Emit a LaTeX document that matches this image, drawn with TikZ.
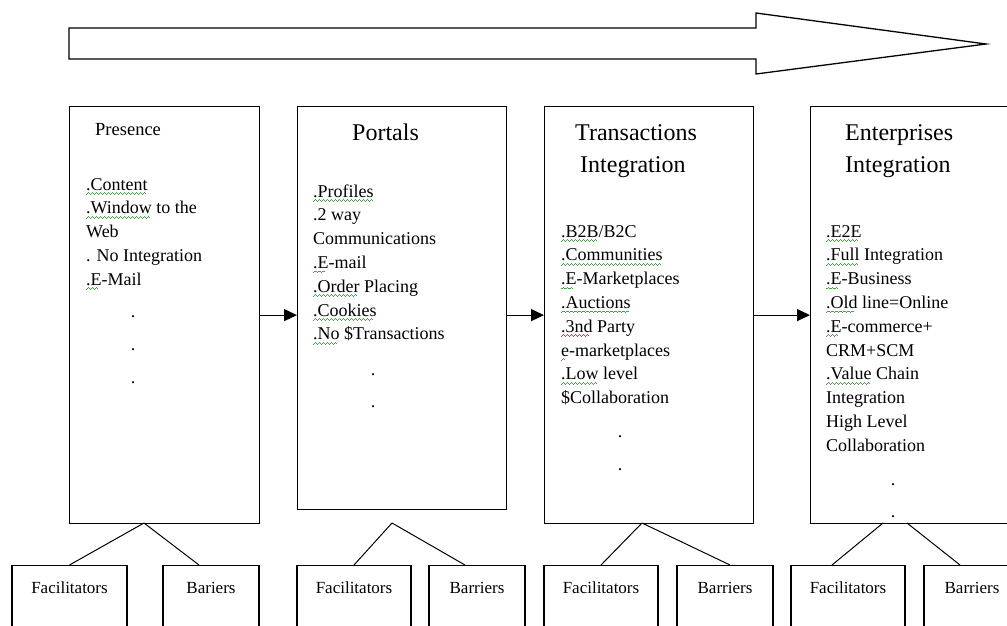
\documentclass[tikz,border=0pt]{standalone}
\usepackage{fontspec}
\setmainfont{Liberation Serif}
\usetikzlibrary{arrows.meta}
\definecolor{sqgreen}{RGB}{60,170,60}
\definecolor{sqred}{RGB}{220,50,50}
\newcommand\waveunit{\hbox{\rule{1pt}{0.8pt}\rule[0.8pt]{1pt}{0.8pt}\rule[1.6pt]{1pt}{0.8pt}\rule[0.8pt]{1pt}{0.8pt}}}
\newcommand\sqline[2]{\setbox0\hbox{#2}\rlap{\lower4.5pt\hbox to\wd0{\color{#1}\leaders\waveunit\hfill}}\box0\relax}
\newcommand\gw[1]{\sqline{sqgreen}{#1}}
\newcommand\rw[1]{\sqline{sqred}{#1}}
\tikzset{
 mainbox/.style={draw, line width=1.2pt, anchor=north west, inner sep=0pt},
 botbox/.style={draw, line width=1.1pt, anchor=north, inner xsep=0pt, inner ysep=16pt, text height=12pt, text depth=50pt, font=\fontsize{17}{20}\selectfont},
 title/.style={anchor=base west, inner sep=0pt, font=\fontsize{24}{30}\selectfont},
 smalltitle/.style={anchor=base west, inner sep=0pt, font=\fontsize{18.5}{22}\selectfont},
 body/.style={anchor=base west, inner sep=0pt, font=\fontsize{18}{23.8}\selectfont},
 dotmark/.style={anchor=base, inner sep=0pt, font=\fontsize{18}{20}\selectfont},
 conn/.style={line width=1.2pt, -{Triangle[length=13pt,width=12pt]}},
 link/.style={line width=1pt},
 bigarrow/.style={draw, line width=1.3pt, fill=white, line join=miter}
}
\begin{document}
\begin{tikzpicture}[x=1pt,y=-1pt]
\useasboundingbox (0,0) rectangle (1007,625);
\clip (0,0) rectangle (1007,625);
\fill[white] (0,0) rectangle (1007,625);

% big arrow
\draw[bigarrow] (69,28) -- (756,28) -- (756,13) -- (986,44) -- (756,74) -- (756,59) -- (69,59) -- cycle;

% main boxes
\node[mainbox, minimum width=190pt, minimum height=417pt] (presence) at (69,106) {};
\node[mainbox, minimum width=209pt, minimum height=403pt] (portals) at (297,106) {};
\node[mainbox, minimum width=209pt, minimum height=417pt] (trans) at (544,106) {};
\node[mainbox, minimum width=230pt, minimum height=417pt] (ent) at (810,106) {};

% titles
\node[smalltitle] (t-pres) at (95,135) {Presence};
\node[title] (t-port) at (352,140) {Portals};
\node[title] (t-trans1) at (575,140) {Transactions};
\node[title] (t-trans2) at (580,172) {Integration};
\node[title] (t-ent1) at (845,140) {Enterprises};
\node[title] (t-ent2) at (845,172) {Integration};

% lists
\node[body] (l-pres) at (86,190) {\begin{tabular}[t]{@{}l@{}}
\gw{.Content}\\
\gw{.Window} to the\\
Web\\
. No Integration\\
\gw{.E}-Mail
\end{tabular}};
\node[body] (l-port) at (313,197) {\begin{tabular}[t]{@{}l@{}}
\gw{.Profiles}\\
.2 way\\
Communications\\
\gw{.E}-mail\\
\gw{.Order} Placing\\
\gw{.Cookies}\\
\gw{.No} \$Transactions
\end{tabular}};
\node[body] (l-trans) at (561,237) {\begin{tabular}[t]{@{}l@{}}
\gw{.B2B}/B2C\\
\gw{.Communities}\\
\gw{.E}-Marketplaces\\
\gw{.Auctions}\\
\rw{.3nd} Party\\
\gw{e}-marketplaces\\
\gw{.Low} level\\
\$Collaboration
\end{tabular}};
\node[body] (l-ent) at (826,237) {\begin{tabular}[t]{@{}l@{}}
\gw{.E2E}\\
\gw{.Full} Integration\\
\gw{.E}-Business\\
\gw{.Old} line=Online\\
\gw{.E}-commerce+\\
CRM+SCM\\
\gw{.Value} Chain\\
Integration\\
High Level\\
Collaboration
\end{tabular}};

% dots
\node[dotmark] (d1a) at (133,317) {.};
\node[dotmark] (d1b) at (133,350) {.};
\node[dotmark] (d1c) at (133,383) {.};
\node[dotmark] (d2a) at (373,375) {.};
\node[dotmark] (d2b) at (373,407) {.};
\node[dotmark] (d3a) at (620,437) {.};
\node[dotmark] (d3b) at (620,470) {.};
\node[dotmark] (d4a) at (893,485) {.};
\node[dotmark] (d4b) at (893,517) {.};

% arrows between boxes
\draw[conn] (presence.east) -- (presence.east -| portals.west);
\draw[conn] (trans.west -| portals.east) -- (trans.west);
\draw[conn] (trans.east) -- (ent.west);

% bottom boxes
\node[botbox, minimum width=115pt] (fac1) at (69.5,565) {Facilitators};
\node[botbox, minimum width=96pt] (bar1) at (211,565) {Bariers};
\node[botbox, minimum width=114pt] (fac2) at (354,565) {Facilitators};
\node[botbox, minimum width=96pt] (bar2) at (477,565) {Barriers};
\node[botbox, minimum width=114pt] (fac3) at (601,565) {Facilitators};
\node[botbox, minimum width=96pt] (bar3) at (725,565) {Barriers};
\node[botbox, minimum width=114pt] (fac4) at (848,565) {Facilitators};
\node[botbox, minimum width=96pt] (bar4) at (972,565) {Barriers};

% connectors to bottom boxes
\coordinate (apex1) at (144,523);
\coordinate (apex2) at (392,523);
\coordinate (apex3) at (642,523);
\coordinate (apex4a) at (883,523);
\coordinate (apex4b) at (907,523);
\draw[link] (apex1) -- (fac1.north);
\draw[link] (apex1) -- ([xshift=-12pt]bar1.north);
\draw[link] (apex2) -- (fac2.north);
\draw[link] (apex2) -- ([xshift=-12pt]bar2.north);
\draw[link] (apex3) -- (fac3.north);
\draw[link] (apex3) -- ([xshift=5pt]bar3.north);
\draw[link] (apex4a) -- ([xshift=-16pt]fac4.north);
\draw[link] (apex4b) -- ([xshift=-12pt]bar4.north);
\end{tikzpicture}
\end{document}
